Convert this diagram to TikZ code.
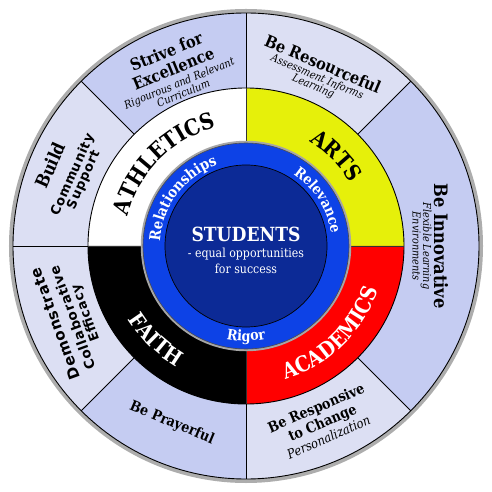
\documentclass[tikz,border=0pt]{standalone}
\usepackage{fontspec}
\setmainfont{DejaVu Serif}[FakeStretch=0.88]
\newfontfamily\sansW{DejaVu Sans}[LetterSpace=5]
\usetikzlibrary{decorations.text}
\definecolor{secdark}{HTML}{C5CCF2}
\definecolor{seclight}{HTML}{DCDFF3}
\definecolor{artsyellow}{HTML}{E6F00A}
\definecolor{acred}{HTML}{FF0000}
\definecolor{ringblue}{HTML}{0D42E6}
\definecolor{coreblue}{HTML}{0C2A96}
\definecolor{rimgray}{HTML}{8A8A8A}
\tikzset{
  sectorline/.style={draw=black, line width=0.8pt},
  lineTxt/.style={anchor=base, inner sep=0pt, text=black, transform shape},
}
\newcommand\bfs[1]{\fontsize{#1}{#1}\selectfont\bfseries}
\newcommand\its[1]{\fontsize{#1}{#1}\selectfont\itshape}
\newcommand\sws[1]{\fontsize{#1}{#1}\selectfont\sansW\bfseries}
\begin{document}
\begin{tikzpicture}[x=1pt,y=1pt]
\useasboundingbox (-246pt,-246pt) rectangle (246pt,246pt);
\coordinate (C) at (0,0);
% outer rim
\draw[rimgray!70, line width=4pt] (C) circle[radius=235pt];
% outer sectors
\fill[secdark]  (C) -- (90:233pt)  arc[start angle=90,  end angle=135, radius=233pt] -- cycle;
\fill[seclight] (C) -- (135:233pt) arc[start angle=135, end angle=225, radius=233pt] -- cycle;
\fill[secdark]  (C) -- (225:233pt) arc[start angle=225, end angle=270, radius=233pt] -- cycle;
\fill[seclight] (C) -- (270:233pt) arc[start angle=270, end angle=315, radius=233pt] -- cycle;
\fill[secdark]  (C) -- (315:233pt) arc[start angle=315, end angle=405, radius=233pt] -- cycle;
\fill[seclight] (C) -- (45:233pt)  arc[start angle=45,  end angle=90,  radius=233pt] -- cycle;
\draw[black, line width=0.9pt] (C) circle[radius=233pt];
\foreach \a in {45,90,135,180,225,270,315}
  \draw[sectorline] (\a:158pt) -- (\a:233pt);
% coloured quadrants
\fill[white]      (C) -- (90:158pt)  arc[start angle=90,  end angle=180, radius=158pt] -- cycle;
\fill[artsyellow] (C) -- (0:158pt)   arc[start angle=0,   end angle=90,  radius=158pt] -- cycle;
\fill[acred]      (C) -- (270:158pt) arc[start angle=270, end angle=360, radius=158pt] -- cycle;
\fill[black]      (C) -- (180:158pt) arc[start angle=180, end angle=270, radius=158pt] -- cycle;
\draw[black, line width=0.9pt] (C) circle[radius=158pt];
\foreach \a in {0,90,180,270}
  \draw[black!80, line width=0.8pt] (\a:100pt) -- (\a:158pt);
% blue ring and core
\draw[black!35, line width=2.5pt] (C) circle[radius=104pt];
\fill[ringblue] (C) circle[radius=103pt];
\draw[black!70, line width=0.6pt] (C) circle[radius=103pt];
\fill[coreblue] (C) circle[radius=81pt];
\draw[black, line width=0.7pt] (C) circle[radius=81pt];
% centre text
\node[anchor=base, text=white, inner sep=0] (students) at (0pt,4pt) {\bfs{19.5}STUDENTS};
\node[anchor=base, text=white, inner sep=0] (equal) at (0pt,-12pt) {\fontsize{12.5}{13}\selectfont - equal opportunities};
\node[anchor=base, text=white, inner sep=0] (success) at (0pt,-28pt) {\fontsize{12.5}{13}\selectfont for success};
% ring words
\path[postaction={decorate}, decoration={text along path, text align=center,
  text={|\bfs{15}\color{white}|Relationships}}]
  (203:86pt) arc[start angle=203, end angle=83, radius=86pt];
\path[postaction={decorate}, decoration={text along path, text align=center,
  text={|\bfs{14.5}\color{white}|Relevance}}]
  (92.5:86pt) arc[start angle=92.5, end angle=-27.5, radius=86pt];
\path[postaction={decorate}, decoration={text along path, text align=center,
  text={|\bfs{14.5}\color{white}|Rigor}}]
  (220:95pt) arc[start angle=220, end angle=320, radius=95pt];
% quadrant words
\path[postaction={decorate}, decoration={text along path, text align=center,
  text={|\bfs{22.5}\color{black}|ATHLETICS}}]
  (195:122pt) arc[start angle=195, end angle=75, radius=122pt];
\path[postaction={decorate}, decoration={text along path, text align=center,
  text={|\bfs{22}\color{black}|ARTS}}]
  (105:122pt) arc[start angle=105, end angle=-15, radius=122pt];
\path[postaction={decorate}, decoration={text along path, text align=center,
  text={|\bfs{21.5}\color{white}|ACADEMICS}}]
  (-106:139pt) arc[start angle=-106, end angle=14, radius=139pt];
\path[postaction={decorate}, decoration={text along path, text align=center,
  text={|\bfs{21.5}\color{white}|FAITH}}]
  (166:139pt) arc[start angle=166, end angle=286, radius=139pt];
% outer labels
\begin{scope}[shift={(112.3:187pt)}, rotate=22.3]
  \node[lineTxt] (strive1) at (0pt,17pt)   {\bfs{16.5}Strive for};
  \node[lineTxt] (strive2) at (0pt,-1.5pt) {\bfs{16.5}Excellence};
  \node[lineTxt] (strive3) at (0pt,-15pt)  {\its{11}Rigourous and Relevant};
  \node[lineTxt] (strive4) at (0pt,-26pt)  {\its{11}Curriculum};
\end{scope}
\begin{scope}[shift={(67.1:187.5pt)}, rotate=-22.9]
  \node[lineTxt] (res1) at (0pt,4pt)     {\bfs{16.5}Be Resourceful};
  \node[lineTxt] (res2) at (0pt,-7.5pt)  {\its{11}Assessment Informs};
  \node[lineTxt] (res3) at (0pt,-17.5pt) {\its{11}Learning};
\end{scope}
\begin{scope}[shift={(0:184pt)}, rotate=-90]
  \node[lineTxt] (inn1) at (0pt,4pt)     {\bfs{18.5}Be Innovative};
  \node[lineTxt] (inn2) at (0pt,-7pt)    {\its{11}Flexible Learning};
  \node[lineTxt] (inn3) at (0pt,-17.5pt) {\its{11}Environments};
\end{scope}
\begin{scope}[shift={(-66.6:194pt)}, rotate=23.4]
  \node[lineTxt] (rsp1) at (0pt,12.5pt) {\bfs{14.5}Be Responsive};
  \node[lineTxt] (rsp2) at (0pt,-3.5pt) {\bfs{14.5}to Change};
  \node[lineTxt] (rsp3) at (0pt,-19pt)  {\its{13}Personalization};
\end{scope}
\begin{scope}[shift={(247.3:192pt)}, rotate=-22.7]
  \node[lineTxt, anchor=center] (pray) at (0pt,0pt) {\bfs{14.5}Be Prayerful};
\end{scope}
\begin{scope}[shift={(202.4:189pt)}, rotate=110]
  \node[lineTxt] (dem1) at (0pt,11.5pt) {\sws{15}Demonstrate};
  \node[lineTxt] (dem2) at (0pt,-6pt)   {\sws{13.5}Collaborative};
  \node[lineTxt] (dem3) at (0pt,-19pt)  {\sws{13}Efficacy};
\end{scope}
\begin{scope}[shift={(157.7:192pt)}, rotate=66]
  \node[lineTxt] (bld1) at (0pt,13pt)    {\bfs{18}Build};
  \node[lineTxt] (bld2) at (0pt,-8.5pt)  {\sws{13}Community};
  \node[lineTxt] (bld3) at (0pt,-20.5pt) {\sws{13}Support};
\end{scope}
\end{tikzpicture}
\end{document}
